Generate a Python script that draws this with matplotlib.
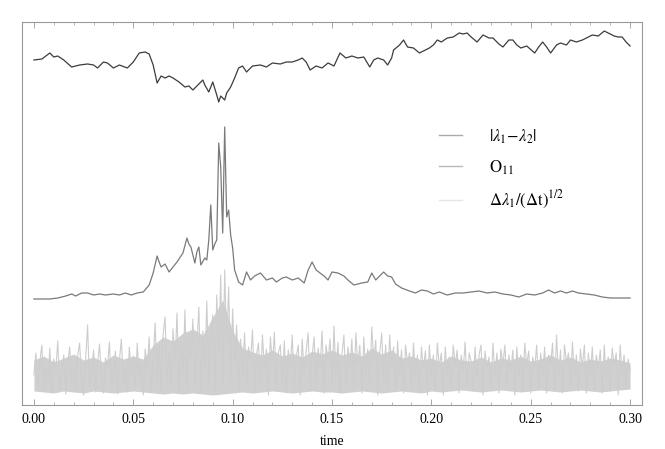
import numpy as np
import matplotlib
matplotlib.use("Agg")
import matplotlib.pyplot as plt
from matplotlib.lines import Line2D
from matplotlib.ticker import MultipleLocator

plt.rcParams['font.family'] = ['Liberation Serif', 'DejaVu Serif']
plt.rcParams['mathtext.fontset'] = 'stix'

# ---- data (arbitrary vertical units) ----
gap_t = [0.000, 0.004, 0.008, 0.010, 0.012, 0.015, 0.019, 0.023, 0.027, 0.030,
         0.032, 0.035, 0.037, 0.040, 0.043, 0.047, 0.050, 0.053, 0.056, 0.058,
         0.060, 0.062, 0.064, 0.066, 0.068, 0.070, 0.073, 0.076, 0.078, 0.080,
         0.082, 0.085, 0.086, 0.088, 0.090, 0.092, 0.093, 0.094, 0.096, 0.097,
         0.099, 0.101, 0.103, 0.105, 0.107, 0.110, 0.114, 0.117, 0.120, 0.124,
         0.127, 0.130, 0.133, 0.135, 0.137, 0.139, 0.142, 0.145, 0.148, 0.151,
         0.154, 0.157, 0.160, 0.163, 0.166, 0.169, 0.171, 0.173, 0.176, 0.178,
         0.180, 0.181, 0.184, 0.186, 0.188, 0.191, 0.194, 0.197, 0.199, 0.201,
         0.203, 0.205, 0.208, 0.211, 0.214, 0.216, 0.218, 0.220, 0.223, 0.226,
         0.229, 0.231, 0.234, 0.236, 0.239, 0.241, 0.243, 0.245, 0.248, 0.252,
         0.254, 0.256, 0.258, 0.260, 0.263, 0.265, 0.268, 0.270, 0.273, 0.276,
         0.279, 0.281, 0.284, 0.287, 0.290, 0.292, 0.294, 0.296, 0.298, 0.300]
gap_v = [345, 346, 352, 348, 349, 345, 338, 340, 341, 340,
         337, 343, 342, 337, 340, 337, 343, 352, 353, 351,
         340, 322, 329, 327, 329, 327, 323, 318, 319, 315,
         319, 325, 320, 313, 323, 310, 303, 309, 305, 312,
         318, 327, 337, 339, 333, 339, 340, 338, 342, 341,
         343, 343, 345, 347, 343, 335, 339, 337, 342, 339,
         352, 347, 349, 347, 348, 338, 345, 347, 345, 340,
         347, 355, 360, 365, 358, 357, 352, 355, 357, 360,
         365, 363, 367, 368, 372, 371, 372, 368, 363, 370,
         367, 367, 361, 358, 365, 365, 360, 357, 359, 352,
         358, 363, 358, 352, 360, 362, 360, 365, 363, 365,
         368, 370, 369, 374, 371, 369, 368, 368, 363, 359]

o11_t = [0.000, 0.008, 0.012, 0.016, 0.019, 0.021, 0.024, 0.027, 0.030, 0.033,
         0.036, 0.040, 0.043, 0.046, 0.049, 0.052, 0.055, 0.058, 0.060, 0.062,
         0.063, 0.064, 0.066, 0.068, 0.070, 0.072, 0.075, 0.077, 0.078, 0.079,
         0.081, 0.082, 0.083, 0.084, 0.086, 0.087, 0.088, 0.089, 0.090, 0.091,
         0.092, 0.093, 0.094, 0.095, 0.096, 0.097, 0.098, 0.099, 0.100, 0.101,
         0.103, 0.105, 0.107, 0.109, 0.111, 0.114, 0.117, 0.120, 0.122, 0.125,
         0.127, 0.130, 0.133, 0.136, 0.138, 0.140, 0.142, 0.144, 0.146, 0.148,
         0.150, 0.153, 0.156, 0.158, 0.161, 0.165, 0.168, 0.170, 0.172, 0.174,
         0.176, 0.178, 0.180, 0.182, 0.185, 0.189, 0.192, 0.195, 0.198, 0.201,
         0.204, 0.208, 0.212, 0.216, 0.220, 0.224, 0.228, 0.232, 0.236, 0.240,
         0.244, 0.248, 0.252, 0.256, 0.259, 0.262, 0.265, 0.268, 0.271, 0.274,
         0.278, 0.282, 0.286, 0.290, 0.295, 0.300]
o11_v = [106, 106, 107, 109, 111, 109, 112, 112, 110, 111,
         110, 111, 110, 112, 110, 112, 113, 120, 132, 149,
         143, 138, 141, 133, 138, 143, 152, 167, 161, 158,
         142, 153, 158, 140, 147, 145, 165, 200, 155, 161,
         165, 262, 238, 172, 278, 188, 195, 170, 157, 135,
         123, 120, 133, 125, 129, 132, 125, 127, 123, 127,
         128, 125, 127, 122, 135, 143, 135, 132, 129, 125,
         133, 132, 129, 125, 120, 122, 123, 132, 125, 129,
         133, 129, 128, 121, 117, 114, 112, 115, 114, 111,
         113, 110, 112, 112, 113, 114, 112, 113, 111, 110,
         108, 111, 110, 112, 115, 112, 114, 112, 114, 112,
         111, 110, 108, 107, 107, 107]

# Delta lambda_1 / sqrt(dt): one value per 0.001 in time
noise_v = [30, 52, 18, 44, 60, 14, 38, 22, 57, 12, 46, 35, 64, 16, 28, 50, 11, 42, 58, 20,
           36, 15, 49, 62, 24, 10, 45, 80, 18, 33, 55, 13, 40, 61, 26, 12, 47, 38, 63, 17,
           29, 54, 11, 44, 66, 21, 37, 13, 58, 30, 49, 16, 62, 24, 42, 10, 56, 34, 68, 15,
           45, 82, 20, 60, 14, 70, 88, 25, 52, 18, 76, 40, 92, 12, 64, 30, 95, 16, 72, 48,
           86, 20, 58, 98, 14, 74, 36, 104, 22, 66, 90, 12, 110, 48, 130, 20, 135, 60, 118, 25,
           96, 40, 80, 14, 66, 30, 72, 18, 58, 44, 75, 12, 50, 62, 20, 70, 34, 56, 10, 68,
           40, 73, 14, 52, 60, 22, 64, 12, 55, 38, 70, 16, 48, 60, 10, 66, 30, 54, 72, 14,
           50, 68, 20, 57, 36, 74, 12, 60, 44, 66, 18, 79, 28, 63, 12, 50, 70, 20, 58, 38,
           66, 14, 72, 40, 60, 12, 68, 30, 56, 18, 78, 45, 65, 10, 52, 72, 24, 60, 16, 70,
           38, 58, 14, 64, 30, 55, 12, 60, 42, 52, 16, 62, 28, 50, 14, 58, 36, 54, 10, 60,
           26, 50, 14, 62, 38, 52, 10, 58, 30, 48, 16, 60, 40, 55, 12, 50, 34, 63, 18, 52,
           44, 14, 58, 26, 50, 60, 10, 54, 36, 48, 16, 62, 30, 52, 12, 56, 40, 60, 18, 50,
           34, 55, 10, 58, 28, 50, 14, 62, 40, 54, 12, 48, 36, 60, 16, 52, 30, 58, 12, 50,
           40, 62, 16, 70, 28, 55, 12, 60, 42, 52, 18, 63, 30, 50, 14, 56, 38, 60, 12, 52,
           30, 58, 14, 50, 36, 55, 12, 60, 26, 48, 14, 57, 40, 52, 10, 60, 30, 50, 16, 46,
           34]
noise_t = [i / 1000 for i in range(len(noise_v))]

# dense core of the noise band (sampled every 0.005)
core_t = [i / 200 for i in range(61)]
core_hi = [45, 49, 43, 47, 51, 45, 48, 43, 50, 46, 49, 46,
           60, 68, 64, 72, 76, 70, 88, 105,
           74, 57, 53, 50, 55, 49, 52, 48, 54, 51,
           55, 50, 53, 49, 57, 51, 55, 47, 49, 45,
           47, 43, 49, 45, 44, 48, 43, 47, 45, 49, 44, 46, 50, 45, 48, 43, 46, 44, 47, 45,
           42]
core_lo = [14, 13, 12, 14, 13, 12, 14, 13, 12, 13, 14, 13,
           12, 11, 12, 11, 12, 11, 10, 11,
           12, 13, 12, 13, 14, 13, 12, 13, 14, 13,
           13, 12, 13, 14, 13, 12, 13, 14, 13, 12,
           14, 13, 14, 15, 14, 13, 14, 15, 14, 13, 14, 15, 14, 13, 14, 15, 14, 13, 14, 15,
           16]

labels = [r'$|\lambda_1\!-\!\lambda_2|$', r'$\mathrm{O}_{11}$',
          r'$\Delta\lambda_1/(\Delta\mathrm{t})^{1/2}$']
xticks = [0.00, 0.05, 0.10, 0.15, 0.20, 0.25, 0.30]

# ---- figure ----
fig = plt.figure(figsize=(6.65, 4.49), dpi=100)
ax = fig.add_axes([22 / 665, 1 - 405 / 449, 620 / 665, 383 / 449])

ax.fill_between(core_t, core_lo, core_hi, color='#d0d0d0', lw=0)
ax.plot(noise_t, noise_v, color='#cdcdcd', lw=0.8)
ax.plot(o11_t, o11_v, color='#7a7a7a', lw=0.9)
ax.plot(gap_t, gap_v, color='#3c3c3c', lw=0.9)

ax.set_xlim(-0.006, 0.306)
ax.set_ylim(0, 383)
ax.set_yticks([])
ax.set_xticks(xticks)
ax.set_xticklabels([f'{v:.2f}' for v in xticks], fontsize=10)
ax.xaxis.set_minor_locator(MultipleLocator(0.01))
ax.tick_params(axis='x', which='both', direction='in', top=True, bottom=True,
               colors='#999999', labelcolor='black', pad=6)
ax.tick_params(axis='x', which='major', length=4, width=0.6)
ax.tick_params(axis='x', which='minor', length=2, width=0.5)
for s in ax.spines.values():
    s.set_color('#999999')
    s.set_linewidth(0.8)
ax.set_xlabel('time', fontsize=10, labelpad=6)

handles = [Line2D([], [], color='#aaaaaa', lw=1.0),
           Line2D([], [], color='#b8b8b8', lw=1.0),
           Line2D([], [], color='#e6e6e6', lw=1.0)]
ax.legend(handles, labels, loc='upper left', bbox_to_anchor=(0.672, 0.725),
          frameon=False, fontsize=12, handlelength=1.4, handletextpad=1.6,
          labelspacing=0.75, borderpad=0, borderaxespad=0)

fig.savefig('out.png', dpi=100)
